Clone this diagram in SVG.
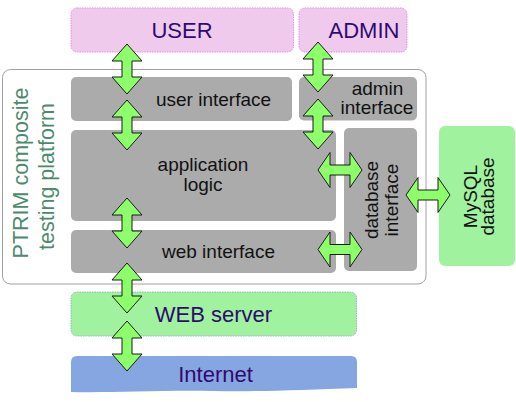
<svg xmlns="http://www.w3.org/2000/svg" width="516" height="402" viewBox="0 0 516 402">
<style>
text{font-family:"Liberation Sans",Arial,sans-serif}
.pink{fill:#f0caec;stroke:#e58ddd;stroke-width:1;stroke-dasharray:1.5 1}
.gray{fill:#ababab}
.green{fill:#a0f29e}
.big{font-size:22px;fill:#2f0a70;text-anchor:middle}
.mid{font-size:19px;fill:#111;text-anchor:middle}
.arr{fill:#8cff6a;stroke:#1a1a1a;stroke-width:1;stroke-linejoin:miter}
</style>
<defs>
<path id="va" class="arr" d="M0,0 L15,17 L5,17 L5,33 L15,33 L0,50 L-15,33 L-5,33 L-5,17 L-15,17 Z"/>
<path id="ha" class="arr" d="M0,0 L12,-17.5 L12,-5 L32,-5 L32,-17.5 L44,0 L32,17.5 L32,5 L12,5 L12,17.5 Z"/>
</defs>
<g id="user"><rect class="pink" x="71" y="8" width="222.5" height="44" rx="6"/><text class="big" x="182" y="38">USER</text></g>
<g id="admin"><rect class="pink" x="299" y="8" width="108" height="44" rx="6"/><text class="big" x="364" y="38">ADMIN</text></g>
<g id="platform"><rect x="2.5" y="69.5" width="423.5" height="214.5" rx="8" fill="#fff" stroke="#a0a0a0" stroke-width="1"/>
<text transform="translate(27.5,173) rotate(-90)" font-size="21.5" fill="#4b8b6c" text-anchor="middle">PTRIM composite</text>
<text transform="translate(53.5,176.5) rotate(-90)" font-size="21.5" fill="#4b8b6c" text-anchor="middle">testing platform</text></g>
<g id="user-interface"><rect class="gray" x="71" y="77" width="221" height="44" rx="5"/><text class="mid" x="213.5" y="106">user interface</text></g>
<g id="admin-interface"><rect class="gray" x="299" y="77" width="118" height="43.5" rx="5"/><text class="mid" x="377.5" y="95">admin</text><text class="mid" x="377" y="114">interface</text></g>
<g id="application-logic"><rect class="gray" x="71" y="130" width="265" height="91" rx="5"/><text class="mid" x="203" y="171">application</text><text class="mid" x="203" y="191">logic</text></g>
<g id="web-interface"><rect class="gray" x="71" y="230" width="265" height="43" rx="5"/><text class="mid" x="218.5" y="258">web interface</text></g>
<g id="database-interface"><rect class="gray" x="344" y="128" width="73" height="143" rx="5"/><text class="mid" transform="translate(378,200) rotate(-90)">database</text><text class="mid" transform="translate(398,200) rotate(-90)">interface</text></g>
<g id="mysql"><rect class="green" x="439" y="126" width="76" height="140" rx="6"/><text class="mid" transform="translate(477,196.5) rotate(-90)">MySQL</text><text class="mid" transform="translate(494,196.5) rotate(-90)">database</text></g>
<g id="web-server"><rect class="green" x="71" y="292" width="285.5" height="44" rx="6" stroke="#9ab0d0" stroke-width="1" stroke-dasharray="1.5 1"/><text class="big" x="213.5" y="322">WEB server</text></g>
<g id="internet"><path d="M71,362 Q71,356 77,356 L351,356 Q357,356 357,362 L357,388 C300,390 250,392 214,391 C160,390 110,393 71,392 Z" fill="#86a6e2"/><text class="big" x="215.5" y="382">Internet</text></g>
<g id="connectors">
<use href="#va" x="127" y="44"/>
<use href="#va" x="127" y="100"/>
<use href="#va" x="127" y="198"/>
<use href="#va" x="127" y="263"/>
<use href="#va" x="127" y="321"/>
<use href="#va" x="318" y="42"/>
<use href="#va" x="318" y="99"/>
<use href="#ha" x="318" y="170"/>
<use href="#ha" x="318" y="249.5"/>
<use href="#ha" x="406" y="195"/>
</g>
</svg>
